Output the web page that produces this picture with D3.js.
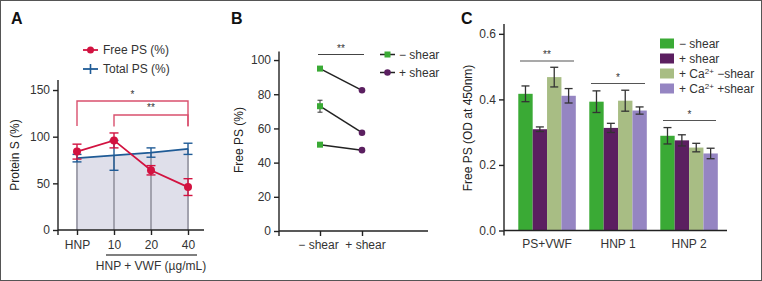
<!DOCTYPE html>
<html>
<head>
<meta charset="utf-8">
<title>Protein S panels</title>
<script src="https://d3js.org/d3.v7.min.js"></script>
<style>
body { margin: 0; background: #fff; }
svg { display: block; font-family: "Liberation Sans", Arial, Helvetica, sans-serif; }
.tick text { font-size: 12px; fill: #333; }
.tick line, .axisline { stroke: #222; stroke-width: 1.4; }
.ytitle { font-family: "Liberation Sans Narrow", "Liberation Sans", Arial, sans-serif; font-size: 12px; fill: #222; }
.lab { font-size: 12px; fill: #333; }
.panel { font-size: 16px; font-weight: bold; fill: #111; }
</style>
</head>
<body>
<script>
// panel A: protein S vs VWF dose
var doseLabels = ["HNP", "10", "20", "40"];
var freePS = [84, 96, 64, 46];
var freePSErr = [8, 8, 5, 9];
var totalPS = [77, 80, 83, 87];
var totalPSErr = [4, 16, 5, 6];

// panel B: paired free PS
var shearCats = ["\u2212 shear", "+ shear"];
var pairedMinus = [95, 73, 50.5];
var pairedMinusErr = [1, 3.5, 0.8];
var pairedPlus = [82.3, 57.5, 47.3];

// panel C: OD at 450 nm
var groups = ["PS+VWF", "HNP 1", "HNP 2"];
var conditions = ["minus", "plus", "caMinus", "caPlus"];
var odMinusShear = [0.417, 0.393, 0.289];
var odPlusShear = [0.309, 0.313, 0.275];
var odCaMinusShear = [0.468, 0.396, 0.253];
var odCaPlusShear = [0.411, 0.366, 0.235];
var errMinusShear = [0.024, 0.033, 0.025];
var errPlusShear = [0.007, 0.014, 0.017];
var errCaMinusShear = [0.03, 0.032, 0.013];
var errCaPlusShear = [0.022, 0.011, 0.016];

var W = 762, H = 281;
var svg = d3.select("body").append("svg").attr("width", W).attr("height", H);
svg.append("rect").attr("x", 0.5).attr("y", 0.5).attr("width", W - 1).attr("height", H - 1)
	.attr("fill", "#fff").attr("stroke", "#555").attr("stroke-width", 1);

var red = "#d21240", blue = "#1f5b96";

function hline(g, x1, x2, y) {
	g.append("line").attr("class", "axisline").attr("x1", x1).attr("x2", x2).attr("y1", y).attr("y2", y);
}
function vline(g, x, y1, y2) {
	g.append("line").attr("class", "axisline").attr("x1", x).attr("x2", x).attr("y1", y1).attr("y2", y2);
}
function errbar(g, x, y1, y2, cap, color, sw) {
	g.append("line").attr("x1", x).attr("x2", x).attr("y1", y1).attr("y2", y2).attr("stroke", color).attr("stroke-width", sw);
	[y1, y2].forEach(function(y) {
		g.append("line").attr("x1", x - cap).attr("x2", x + cap).attr("y1", y).attr("y2", y).attr("stroke", color).attr("stroke-width", sw);
	});
}
function sigText(g, x, y, t) {
	g.append("text").attr("x", x).attr("y", y).attr("text-anchor", "middle").attr("font-size", 10).attr("fill", "#333").text(t);
}

// ---------------- panel A ----------------
var gA = svg.append("g");
gA.append("text").attr("class", "panel").attr("x", 11).attr("y", 24).text("A");

var xA = d3.scalePoint().domain(doseLabels).range([77, 188]);
var yA = d3.scaleLinear().domain([0, 160]).range([230, 80.7]);

var area = d3.area().x(function(d, i) { return xA(doseLabels[i]); }).y0(yA(0)).y1(function(d) { return yA(d); });
gA.append("path").datum(totalPS).attr("d", area).attr("fill", "#dfdfea");
doseLabels.forEach(function(d, i) {
	gA.append("line").attr("x1", xA(d)).attr("x2", xA(d)).attr("y1", yA(totalPS[i])).attr("y2", yA(0))
		.attr("stroke", "#a2a2ae").attr("stroke-width", 2);
});

gA.append("g").attr("transform", "translate(58,0)")
	.call(d3.axisLeft(yA).tickValues([0, 50, 100, 150]).tickSize(5).tickPadding(3))
	.call(function(g) { g.select(".domain").remove(); });
gA.append("g").attr("transform", "translate(0,230)")
	.call(d3.axisBottom(xA).tickSize(5).tickPadding(5))
	.call(function(g) { g.select(".domain").remove(); });
vline(gA, 58, 80, 230);
hline(gA, 58, 204, 230);
vline(gA, 58, 230, 235);
gA.append("line").attr("x1", 106).attr("x2", 197).attr("y1", 255).attr("y2", 255).attr("stroke", "#555").attr("stroke-width", 1.3);
gA.append("text").attr("class", "lab").attr("x", 151).attr("y", 270).attr("text-anchor", "middle").text("HNP + VWF (\u00b5g/mL)");
gA.append("text").attr("class", "ytitle").attr("transform", "translate(19,155) rotate(-90)").attr("text-anchor", "middle").text("Protein S (%)");

// total PS line + errors
var lineA = d3.line().x(function(d, i) { return xA(doseLabels[i]); }).y(function(d) { return yA(d); });
gA.append("path").datum(totalPS).attr("d", lineA).attr("fill", "none").attr("stroke", blue).attr("stroke-width", 1.8);
totalPS.forEach(function(v, i) {
	errbar(gA, xA(doseLabels[i]), yA(v - totalPSErr[i]), yA(v + totalPSErr[i]), 4.5, blue, 1.4);
});
// free PS
gA.append("path").datum(freePS).attr("d", lineA).attr("fill", "none").attr("stroke", red).attr("stroke-width", 1.8);
freePS.forEach(function(v, i) {
	errbar(gA, xA(doseLabels[i]), yA(v - freePSErr[i]), yA(v + freePSErr[i]), 4.5, red, 1.4);
	gA.append("circle").attr("cx", xA(doseLabels[i])).attr("cy", yA(v)).attr("r", 4).attr("fill", red);
});

// brackets
function bracket(g, x1, x2, yTop, yBot, color) {
	g.append("path").attr("d", "M" + x1 + "," + yBot + "V" + yTop + "H" + x2 + "V" + yBot)
		.attr("fill", "none").attr("stroke", color).attr("stroke-width", 1.4);
}
bracket(gA, xA("HNP"), xA("40"), 101, 126, "#d9506e");
bracket(gA, xA("10"), xA("40"), 115, 126.5, "#d9506e");
sigText(gA, (xA("HNP") + xA("40")) / 2, 98, "*");
sigText(gA, (xA("10") + xA("40")) / 2, 111, "**");

// legend A
gA.append("line").attr("x1", 83).attr("x2", 98).attr("y1", 50).attr("y2", 50).attr("stroke", red).attr("stroke-width", 1.8);
gA.append("circle").attr("cx", 90.5).attr("cy", 50).attr("r", 3.5).attr("fill", red);
gA.append("text").attr("class", "lab").attr("x", 103).attr("y", 54).text("Free PS (%)");
gA.append("line").attr("x1", 83).attr("x2", 98).attr("y1", 69).attr("y2", 69).attr("stroke", blue).attr("stroke-width", 1.8);
gA.append("line").attr("x1", 90.5).attr("x2", 90.5).attr("y1", 64).attr("y2", 74).attr("stroke", blue).attr("stroke-width", 1.6);
gA.append("text").attr("class", "lab").attr("x", 103).attr("y", 73).text("Total PS (%)");

// ---------------- panel B ----------------
var gB = svg.append("g");
gB.append("text").attr("class", "panel").attr("x", 231).attr("y", 24).text("B");
var xB = d3.scalePoint().domain(shearCats).range([320, 362]);
var yB = d3.scaleLinear().domain([0, 105]).range([231, 51.5]);

gB.append("g").attr("transform", "translate(279,0)")
	.call(d3.axisLeft(yB).tickValues([0, 20, 40, 60, 80, 100]).tickSize(5).tickPadding(3))
	.call(function(g) { g.select(".domain").remove(); });
gB.append("g").attr("transform", "translate(0,231)")
	.call(d3.axisBottom(xB).tickSize(5).tickPadding(4))
	.call(function(g) {
		g.select(".domain").remove();
		g.selectAll(".tick text").attr("dx", function(d, i) { return i === 0 ? -2 : 3; });
	});
vline(gB, 279, 51.5, 231);
hline(gB, 279, 428, 231);
vline(gB, 279, 231, 236);
gB.append("text").attr("class", "ytitle").attr("transform", "translate(243,140) rotate(-90)").attr("text-anchor", "middle").text("Free PS (%)");

var green = "#3aaa35", purple = "#5b1f60";
pairedMinus.forEach(function(v, i) {
	gB.append("line").attr("x1", xB(shearCats[0])).attr("x2", xB(shearCats[1]))
		.attr("y1", yB(v)).attr("y2", yB(pairedPlus[i])).attr("stroke", "#222").attr("stroke-width", 1.5);
	errbar(gB, xB(shearCats[0]), yB(v - pairedMinusErr[i]), yB(v + pairedMinusErr[i]), 2.5, "#333", 1);
});
pairedMinus.forEach(function(v) {
	gB.append("rect").attr("x", xB(shearCats[0]) - 3).attr("y", yB(v) - 3).attr("width", 6).attr("height", 6).attr("fill", green);
});
pairedPlus.forEach(function(v) {
	gB.append("circle").attr("cx", xB(shearCats[1])).attr("cy", yB(v)).attr("r", 3.3).attr("fill", purple);
});
gB.append("line").attr("x1", 318).attr("x2", 364).attr("y1", 54.5).attr("y2", 54.5).attr("stroke", "#444").attr("stroke-width", 1.2);
sigText(gB, 341, 52, "**");

// legend B
gB.append("line").attr("x1", 380).attr("x2", 395).attr("y1", 54.5).attr("y2", 54.5).attr("stroke", "#222").attr("stroke-width", 1.5);
gB.append("rect").attr("x", 384.5).attr("y", 51.5).attr("width", 6).attr("height", 6).attr("fill", green);
gB.append("text").attr("class", "lab").attr("x", 399).attr("y", 59).text("\u2212 shear");
gB.append("line").attr("x1", 380).attr("x2", 395).attr("y1", 72.5).attr("y2", 72.5).attr("stroke", "#222").attr("stroke-width", 1.5);
gB.append("circle").attr("cx", 387.5).attr("cy", 72.5).attr("r", 3.3).attr("fill", purple);
gB.append("text").attr("class", "lab").attr("x", 399).attr("y", 77).text("+ shear");

// ---------------- panel C ----------------
var gC = svg.append("g");
gC.append("text").attr("class", "panel").attr("x", 461).attr("y", 24).text("C");
var yC = d3.scaleLinear().domain([0, 0.63]).range([230.5, 24]);
var xC = d3.scaleBand().domain(groups).range([504.8, 731.3]).padding(0.19);
var xIn = d3.scaleBand().domain(conditions).range([0, xC.bandwidth()]);
var barColors = d3.scaleOrdinal().domain(conditions).range([green, purple, "#a8bd84", "#9585c2"]);
var odSeries = [odMinusShear, odPlusShear, odCaMinusShear, odCaPlusShear];
var errSeries = [errMinusShear, errPlusShear, errCaMinusShear, errCaPlusShear];

gC.append("g").attr("transform", "translate(504,0)")
	.call(d3.axisLeft(yC).tickValues([0, 0.2, 0.4, 0.6]).tickFormat(d3.format(".1f")).tickSize(5).tickPadding(3))
	.call(function(g) { g.select(".domain").remove(); });
gC.append("g").attr("transform", "translate(0,230.5)")
	.call(d3.axisBottom(xC).tickSize(0).tickPadding(9))
	.call(function(g) { g.select(".domain").remove(); });

groups.forEach(function(grp, gi) {
	conditions.forEach(function(c, ci) {
		var v = odSeries[ci][gi];
		gC.append("rect").attr("x", xC(grp) + xIn(c)).attr("y", yC(v))
			.attr("width", xIn.bandwidth()).attr("height", yC(0) - yC(v)).attr("fill", barColors(c));
	});
});
groups.forEach(function(grp, gi) {
	conditions.forEach(function(c, ci) {
		var v = odSeries[ci][gi], e = errSeries[ci][gi];
		errbar(gC, xC(grp) + xIn(c) + xIn.bandwidth() / 2, yC(v - e), yC(v + e), 4, "#333", 1.3);
	});
});
vline(gC, 504, 24, 230.5);
hline(gC, 504, 727, 230.5);
vline(gC, 504, 230.5, 235.5);
gC.append("text").attr("class", "ytitle").attr("transform", "translate(472,128) rotate(-90)").attr("text-anchor", "middle").text("Free PS (OD at 450nm)");

var sigC = [[520, 574, 61, "**"], [591, 645, 83.5, "*"], [663, 716, 120.5, "*"]];
sigC.forEach(function(s) {
	gC.append("line").attr("x1", s[0]).attr("x2", s[1]).attr("y1", s[2]).attr("y2", s[2]).attr("stroke", "#555").attr("stroke-width", 1.2);
	sigText(gC, (s[0] + s[1]) / 2, s[2] - 3, s[3]);
});

// legend C
var legC = [["\u2212 shear"], ["+ shear"], ["+ Ca", "2+", " \u2212shear"], ["+ Ca", "2+", " +shear"]];
conditions.forEach(function(c, i) {
	var y = 43.5 + i * 15;
	gC.append("rect").attr("x", 660).attr("y", y - 5).attr("width", 14).attr("height", 10).attr("fill", barColors(c));
	var t = gC.append("text").attr("class", "lab").attr("x", 679).attr("y", y + 4.5);
	t.append("tspan").text(legC[i][0]);
	if (legC[i].length > 1) {
		t.append("tspan").attr("dy", -4).attr("font-size", 8).text(legC[i][1]);
		t.append("tspan").attr("dy", 4).text(legC[i][2]);
	}
});
</script>
</body>
</html>
